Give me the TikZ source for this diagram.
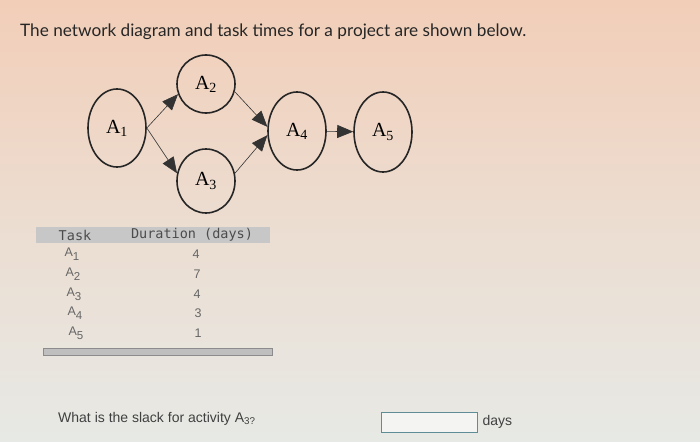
\documentclass[tikz,border=0pt]{standalone}
\usepackage{fontspec}
\setmainfont{Liberation Sans}
\newfontfamily\titlefont{Lato}
\newfontfamily\netfont{Liberation Serif}
\setmonofont{DejaVu Sans Mono}
\usetikzlibrary{shapes.geometric,arrows.meta,positioning}
\definecolor{peach}{RGB}{242,206,184}
\definecolor{paper}{RGB}{231,233,229}
\definecolor{boxline}{RGB}{95,140,150}
\newcommand\lowsub[1]{\raisebox{-0.3em}{\fontsize{11.5}{12}\selectfont#1}}
\begin{document}
\begin{tikzpicture}[x=1pt,y=-1pt,
    act/.style={draw=black!85,line width=1.6pt,ellipse,inner sep=0pt,
      minimum width=58pt,minimum height=78pt,
      font=\netfont\fontsize{20}{20}\selectfont},
    link/.style={line width=0.6pt,draw=black!80,
      -{Triangle[length=16pt,width=13pt]}},
    cell/.style={font=\fontsize{12.5}{13}\selectfont,text=black!60,inner sep=0pt},
    head/.style={font=\ttfamily\fontsize{13.5}{14}\selectfont,text=black!70,inner sep=0pt}]
  \shade[top color=peach,bottom color=paper,middle color=peach!45!paper]
    (0,0) rectangle (700,441);
  \node[anchor=west,font=\titlefont\fontsize{17.2}{18}\selectfont,text=black!85,inner sep=0pt]
    (title) at (20,32) {The network diagram and task times for a project are shown below.};
  % network
  \node[act] (a1) at (117,128) {A\textsubscript{1}};
  \node[act,minimum height=58pt] (a2) at (206,84) {A\textsubscript{2}};
  \node[act,minimum height=64pt] (a3) at (206,181) {A\textsubscript{3}};
  \node[act] (a4) at (297,131) {A\textsubscript{4}};
  \node[act,minimum height=80pt] (a5) at (383,132) {A\textsubscript{5}};
  \draw[link] (a1.east) -- (a2.200);
  \draw[link] (a1.east) -- (a3.165);
  \draw[link] (a2.-15) -- (a4.172);
  \draw[link] (a3.15) -- (a4.188);
  \draw[link] (a4) -- (a5);
  % table
  \fill[black!22] (36,227) rectangle (270,243);
  \node[head] (thtask) at (75,235) {Task};
  \node[head] (thdur) at (192,235) {Duration (days)};
  \node[cell] (t1) at (72,254) {A\lowsub{1}};
  \node[cell] (t2) at (73,274) {A\lowsub{2}};
  \node[cell] (t3) at (74,294) {A\lowsub{3}};
  \node[cell] (t4) at (75,313) {A\lowsub{4}};
  \node[cell] (t5) at (76,333) {A\lowsub{5}};
  \node[cell] (d1) at (196,254) {4};
  \node[cell] (d2) at (197,274) {7};
  \node[cell] (d3) at (197,294) {4};
  \node[cell] (d4) at (198,313) {3};
  \node[cell] (d5) at (198,333) {1};
  \draw[black!45,fill=black!25] (43,348) rectangle (272,355);
  % question
  \node[anchor=west,font=\fontsize{14}{14}\selectfont,text=black!75,inner sep=0pt]
    (question) at (58,419) {What is the slack for activity A\textsubscript{3?}};
  \node[draw=boxline,fill=white!55!paper,line width=0.8pt,inner sep=0pt,
    minimum width=96pt,minimum height=20pt] (answer) at (429,422) {};
  \node[right=5pt of answer,inner sep=0pt,font=\fontsize{14}{14}\selectfont,text=black!75]
    (days) {days};
\end{tikzpicture}
\end{document}
